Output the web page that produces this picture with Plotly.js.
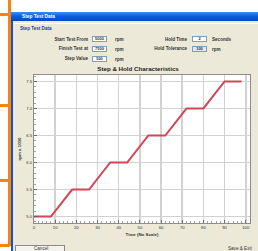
<!DOCTYPE html>
<html>
<head>
<meta charset="utf-8">
<script src="https://cdn.plot.ly/plotly-3.0.1.min.js"></script>
<style>
html,body{margin:0;padding:0;background:#fff;}
#wrap{position:relative;width:258px;height:251px;overflow:hidden;background:#fff;font-family:"Liberation Sans",Arial,sans-serif;}
.abs{position:absolute;}
.lbl{position:absolute;font-size:4.6px;font-weight:bold;color:#333;white-space:nowrap;line-height:5px;}
.box{position:absolute;width:15px;height:6px;background:#fff;border:1px solid #7f9db9;box-sizing:border-box;font-size:4px;line-height:4px;text-align:center;color:#333;font-weight:bold;}
#chart{position:absolute;left:0;top:0;width:258px;height:251px;}
</style>
</head>
<body>
<div id="wrap">
  <!-- orange bracket -->
  <div class="abs" style="left:8px;top:0;width:2.5px;height:246px;background:#f7840f;"></div>
  <div class="abs" style="left:0;top:13px;width:10px;height:2.5px;background:#f7840f;"></div>
  <div class="abs" style="left:0;top:104px;width:10px;height:2.5px;background:#f7840f;"></div>
  <div class="abs" style="left:0;top:179px;width:10px;height:2.5px;background:#f7840f;"></div>
  <div class="abs" style="left:0;top:244px;width:10px;height:2.5px;background:#f7840f;"></div>
  <!-- window -->
  <div class="abs" style="left:11px;top:12px;width:247px;height:239px;background:#0a55d8;"></div>
  <div class="abs" style="left:13px;top:21px;width:245px;height:230px;background:#ece9d8;"></div>
  <div class="abs" style="left:11px;top:12px;width:247px;height:9px;background:linear-gradient(#3d8af7,#0a5ddb 50%,#0848c0);"></div>
  <div class="lbl" style="left:22px;top:14px;color:#fff;font-size:4.8px;">Step Test Data</div>
  <div class="abs" style="left:14px;top:23px;width:244px;height:1px;background:#fff;"></div>
  <div class="lbl" style="left:20px;top:26px;color:#1c3f94;">Step Test Data</div>

  <div class="lbl" style="right:170px;top:37px;">Start Test From</div>
  <div class="box" style="left:92px;top:36px;">5000</div>
  <div class="lbl" style="left:115px;top:37px;">rpm</div>
  <div class="lbl" style="right:170px;top:46px;">Finish Test at</div>
  <div class="box" style="left:92px;top:46px;">7500</div>
  <div class="lbl" style="left:115px;top:47px;">rpm</div>
  <div class="lbl" style="right:170px;top:56px;">Step Value</div>
  <div class="box" style="left:92px;top:56px;">500</div>
  <div class="lbl" style="left:115px;top:57px;">rpm</div>

  <div class="lbl" style="right:71px;top:37px;">Hold Time</div>
  <div class="box" style="left:192px;top:36px;">2</div>
  <div class="lbl" style="left:212px;top:37px;">Seconds</div>
  <div class="lbl" style="right:71px;top:46px;">Hold Tolerance</div>
  <div class="box" style="left:192px;top:46px;background:#dfe6ff;">100</div>
  <div class="lbl" style="left:212px;top:47px;">rpm</div>

  <!-- bottom buttons -->
  <div class="abs" style="left:15px;top:245px;width:50px;height:8px;border:1px solid #8a8a8a;box-sizing:border-box;background:#f4f3ee;"></div>
  <div class="lbl" style="left:34px;top:246px;font-weight:normal;">Cancel</div>
  <div class="lbl" style="left:228px;top:246px;font-weight:normal;">Save &amp; Exit</div>

  <div id="chart"></div>
</div>
<script>
// Step & hold profile
var timePts = [0, 8, 18, 26, 36, 44, 54, 62, 72, 80, 90, 98];
var rpmK   = [5.0, 5.0, 5.5, 5.5, 6.0, 6.0, 6.5, 6.5, 7.0, 7.0, 7.5, 7.5];
var chartTitle = 'Step & Hold Characteristics';
var xTitle = 'Time (No Scale)';
var yTitle = 'rpm x 1000';

var trace = {x: timePts, y: rpmK, type: 'scatter', mode: 'lines',
  line: {color: '#d04656', width: 2}, hoverinfo: 'skip'};

var tf = {family: 'Liberation Sans, Arial, sans-serif', size: 4.2, color: '#333'};
var layout = {
  width: 258, height: 251,
  margin: {l: 34, r: 8, t: 75, b: 28, pad: 0},
  paper_bgcolor: 'rgba(0,0,0,0)', plot_bgcolor: '#ffffff',
  showlegend: false,
  font: {family: 'Liberation Sans, Arial, sans-serif'},
  title: {text: '<b>' + chartTitle.replace('&', '&amp;') + '</b>',
    font: {size: 6.2, color: '#222'}, x: 0.535, xanchor: 'center',
    xref: 'container', yref: 'container', y: 1 - 69/251, yanchor: 'middle'},
  xaxis: {range: [0, 102], tick0: 0, dtick: 10, showgrid: true, gridcolor: '#d2d2d2', gridwidth: 1.5,
    zeroline: false, showline: true, mirror: true, linecolor: '#8c8c8c', linewidth: 1,
    ticks: 'inside', ticklen: 3, tickcolor: '#555', tickwidth: 0.8,
    minor: {dtick: 2, ticks: 'inside', ticklen: 2, tickcolor: '#666', tickwidth: 0.6, showgrid: false},
    tickfont: tf,
    title: {text: '<b>' + xTitle + '</b>', font: {size: 4.4, color: '#333'}, standoff: 3}},
  yaxis: {range: [4.88, 7.62], tick0: 5, dtick: 0.5, tickformat: '.1f', showgrid: true, gridcolor: '#d2d2d2', gridwidth: 1.5,
    zeroline: false, showline: true, mirror: true, linecolor: '#8c8c8c', linewidth: 1,
    ticks: 'inside', ticklen: 3, tickcolor: '#555', tickwidth: 0.8,
    minor: {dtick: 0.1, ticks: 'inside', ticklen: 2, tickcolor: '#666', tickwidth: 0.6, showgrid: false},
    tickfont: tf,
    title: {text: '<b>' + yTitle + '</b>', font: {size: 4.4, color: '#333'}, standoff: 4}}
};
Plotly.newPlot('chart', [trace], layout, {staticPlot: true, displayModeBar: false});
</script>
</body>
</html>
